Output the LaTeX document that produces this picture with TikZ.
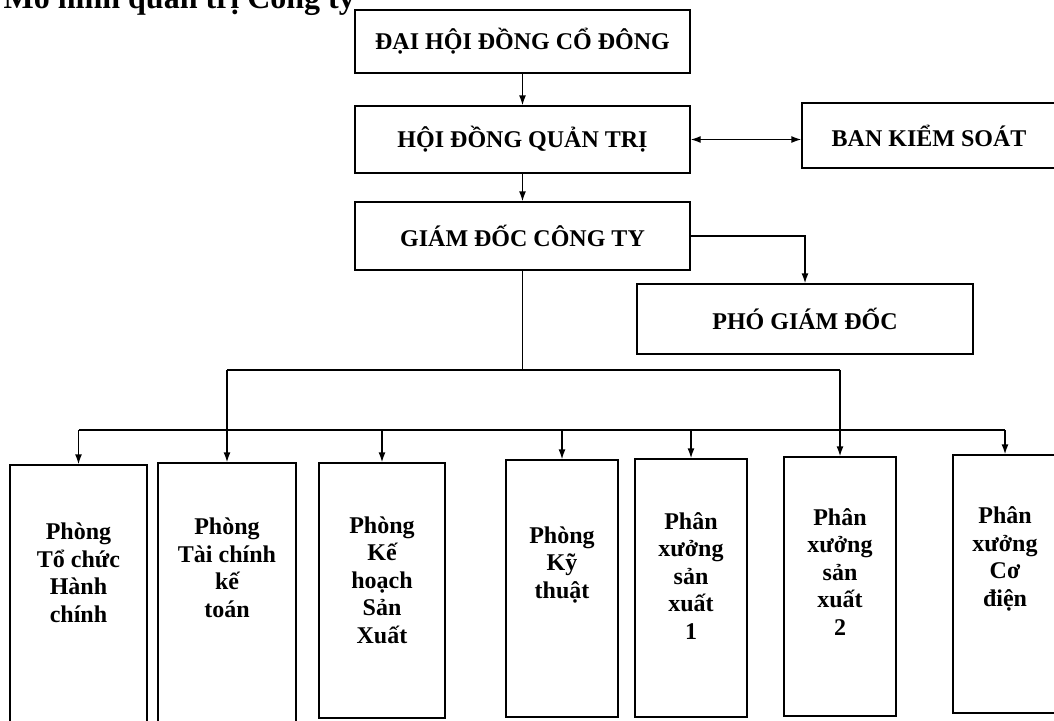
\documentclass[tikz,border=0pt]{standalone}
\usepackage{fontspec}
\setmainfont{Liberation Serif}
\usetikzlibrary{arrows.meta,positioning,calc}

\begin{document}
\begin{tikzpicture}[x=1pt,y=-1pt,line width=1.4pt,>={Latex[length=10pt,width=7pt]},
  box/.style={draw,inner sep=0pt,font=\bfseries\fontsize{24}{28}\selectfont},
  dept/.style={draw,inner sep=0pt},
  dtext/.style={align=center,inner sep=0pt,font=\bfseries\fontsize{24}{27.5}\selectfont}]
  \clip (0,0) rectangle (1054,720);
  \node[anchor=base west,inner sep=0pt,font=\bfseries\fontsize{32}{32}\selectfont] (title) at (3,9) {Mô hình quản trị Công ty};
  \node[box,minimum width=335,minimum height=63] (dhd) at (522.5,41.5) {ĐẠI HỘI ĐỒNG CỔ ĐÔNG};
  \node[box,minimum width=335,minimum height=67] (hdqt) at (522.5,139.5) {HỘI ĐỒNG QUẢN TRỊ};
  \node[box,minimum width=335,minimum height=68] (gd) at (522.5,236) {GIÁM ĐỐC CÔNG TY};
  \node[box,minimum width=254,minimum height=65] (bks) at (929,135.5) {BAN KIỂM SOÁT};
  \node[box,minimum width=336,minimum height=70] (pgd) at (805,319) {PHÓ GIÁM ĐỐC};
  \foreach \i/\cx/\w/\cy/\h/\ty/\lab in {
    1/78.5/137/596/262/573/{Phòng\\Tổ chức\\Hành\\chính},
    2/227/138/595/264/568/{Phòng\\Tài chính\\kế\\toán},
    3/382/126/590.5/255/580/{Phòng\\Kế\\hoạch\\Sản\\Xuất},
    4/562/112/588.5/257/565/{Phòng\\Kỹ\\thuật},
    5/691/112/588/258/576/{Phân\\xưởng\\sản\\xuất\\1},
    6/840/112/586.5/259/572/{Phân\\xưởng\\sản\\xuất\\2},
    7/1005/104/584/258/559/{Phân\\xưởng\\Cơ\\điện}}{
    \node[dept,minimum width=\w,minimum height=\h] (b\i) at (\cx,\cy) {};
    \node[dtext] (t\i) at (\cx,\ty) {\lab};}
  \coordinate (bus1) at (0,370);
  \coordinate (bus2) at (0,430);
  \draw[->] (dhd) -- (hdqt);
  \draw[->] (hdqt) -- (gd);
  \draw[<->] (hdqt.east) -- (hdqt.east -| bks.west);
  \draw[->] (gd.east) -| (pgd.north);
  \draw (gd.south) -- (gd.south |- bus1);
  \draw (b2.north |- bus1) -- (b6.north |- bus1);
  \draw[->] (b2.north |- bus1) -- (b2.north);
  \draw[->] (b6.north |- bus1) -- (b6.north);
  \draw (b1.north |- bus2) -- (b7.north |- bus2);
  \foreach \i in {1,3,4,5,7}
    \draw[->] (b\i.north |- bus2) -- (b\i.north);
\end{tikzpicture}
\end{document}
